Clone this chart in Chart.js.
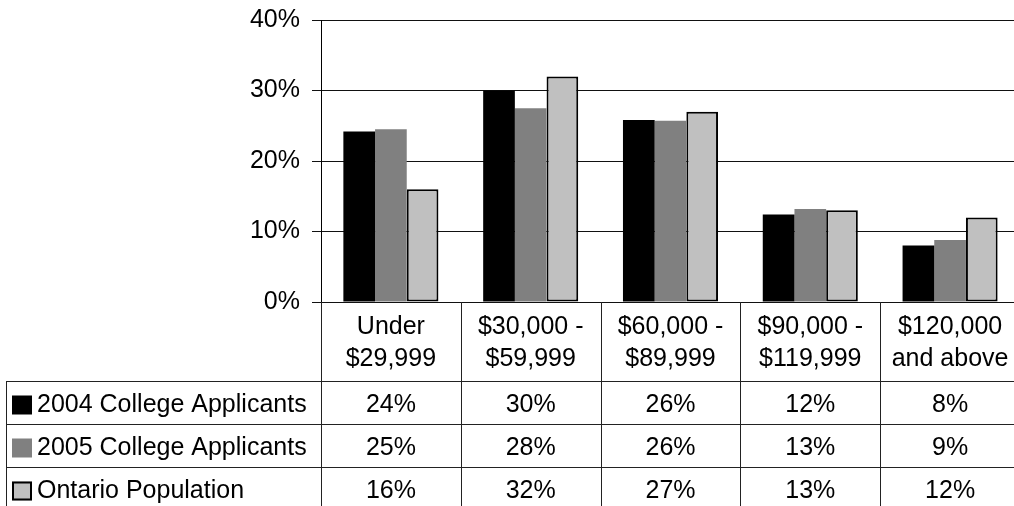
<!DOCTYPE html>
<html lang="en">
<head>
    <meta charset="UTF-8">
    <title>Household Income of College Applicants</title>
    <script src="https://cdn.jsdelivr.net/npm/chart.js"></script>
    <style>
        html, body {
            margin: 0;
            padding: 0;
            background: #fff;
            overflow: hidden; /* plot runs a few px past the window edge */
        }
        .chart-wrap {
            width: 1020px;
            height: 506px;
        }
    </style>
</head>
<body>
    <div class="chart-wrap">
        <canvas id="incomeChart" width="1020" height="506"></canvas>
    </div>

    <script>
        // Income brackets (two-line labels, as in the data table header)
        const categories = [
            ['Under', '$29,999'],
            ['$30,000 -', '$59,999'],
            ['$60,000 -', '$89,999'],
            ['$90,000 -', '$119,999'],
            ['$120,000', 'and above']
        ];

        const seriesNames = ['2004 College Applicants', '2005 College Applicants', 'Ontario Population'];

        // Percent of group in each bracket
        const applicants2004 = [24.2, 30.0, 25.8, 12.4, 8.0];
        const applicants2005 = [24.5, 27.5, 25.7, 13.2, 8.8];
        const ontarioPop = [16.0, 32.0, 27.0, 13.0, 12.0];

        const yTicks = [0, 10, 20, 30, 40];

        const FONT = "'Liberation Sans', Arial, sans-serif";
        const colors = ['#000000', '#808080', '#c0c0c0'];

        // Draws the Excel style data table under the plot
        const dataTablePlugin = {
            id: 'dataTable',
            afterDraw(chart) {
                const ctx = chart.ctx;
                const area = chart.chartArea;
                const x = chart.scales.x;
                const n = categories.length;
                const colW = (area.right - area.left) / n;
                const headerBottom = 381;
                const rowH = 43;
                const tableLeft = 6;
                const bottom = chart.height;

                ctx.save();
                ctx.strokeStyle = '#222';
                ctx.lineWidth = 1;
                ctx.beginPath();
                // column separators
                for (let i = 0; i <= n; i++) {
                    const px = Math.round(area.left + i * colW) + 0.5;
                    ctx.moveTo(px, area.bottom);
                    ctx.lineTo(px, bottom);
                }
                // left border of the legend column
                ctx.moveTo(tableLeft + 0.5, headerBottom);
                ctx.lineTo(tableLeft + 0.5, bottom);
                // row separators
                for (let r = 0; r < seriesNames.length; r++) {
                    const py = headerBottom + r * rowH + 0.5;
                    ctx.moveTo(tableLeft, py);
                    ctx.lineTo(area.right, py);
                }
                ctx.stroke();

                ctx.fillStyle = '#000';
                ctx.font = '25px ' + FONT;
                ctx.textAlign = 'center';
                ctx.textBaseline = 'alphabetic';
                // header: category labels
                categories.forEach((lines, i) => {
                    const cx = x.getPixelForValue(i);
                    lines.forEach((line, j) => {
                        ctx.fillText(line, cx, 334 + j * 32);
                    });
                });

                // value rows
                const allSeries = [applicants2004, applicants2005, ontarioPop];
                ctx.textBaseline = 'middle';
                allSeries.forEach((vals, r) => {
                    const cy = headerBottom + r * rowH + rowH / 2 + 3;
                    vals.forEach((v, i) => {
                        ctx.textAlign = 'center';
                        ctx.fillText(Math.round(v) + '%', x.getPixelForValue(i), cy);
                    });
                    // legend key + name
                    const boxY = cy - 10;
                    ctx.fillStyle = colors[r];
                    ctx.fillRect(12, boxY, 20, 19);
                    if (r === 2) {
                        ctx.strokeStyle = '#000';
                        ctx.lineWidth = 2;
                        ctx.strokeRect(13, boxY + 1, 18, 17);
                    }
                    ctx.fillStyle = '#000';
                    ctx.textAlign = 'left';
                    ctx.fillText(seriesNames[r], 37, cy);
                });
                ctx.restore();
            }
        };

        const ctx = document.getElementById('incomeChart').getContext('2d');

        const incomeChart = new Chart(ctx, {
            type: 'bar',
            data: {
                labels: categories,
                datasets: [
                    {
                        label: seriesNames[0],
                        data: applicants2004,
                        backgroundColor: colors[0],
                        borderWidth: 0
                    },
                    {
                        label: seriesNames[1],
                        data: applicants2005,
                        backgroundColor: colors[1],
                        borderWidth: 0
                    },
                    {
                        label: seriesNames[2],
                        data: ontarioPop,
                        backgroundColor: colors[2],
                        borderColor: '#000',
                        borderWidth: 2,
                        borderSkipped: false
                    }
                ]
            },
            options: {
                responsive: false,
                animation: false,
                devicePixelRatio: 1,
                layout: {
                    padding: { top: 20, bottom: 204, left: 0, right: 0 }
                },
                datasets: {
                    bar: {
                        categoryPercentage: 0.68,
                        barPercentage: 1
                    }
                },
                plugins: {
                    legend: { display: false },
                    tooltip: { enabled: false }
                },
                scales: {
                    x: {
                        display: false
                    },
                    y: {
                        min: 0,
                        max: 40,
                        afterFit(scale) {
                            scale.width = 321;
                            // let layout.padding alone decide the plot's top/bottom
                            scale.paddingTop = 0;
                            scale.paddingBottom = 0;
                        },
                        afterBuildTicks(scale) {
                            scale.ticks = yTicks.map(v => ({ value: v }));
                        },
                        ticks: {
                            color: '#000',
                            font: { family: FONT, size: 25 },
                            padding: 12,
                            callback: v => v + '%'
                        },
                        grid: {
                            color: '#111',
                            lineWidth: 1,
                            tickLength: 9
                        },
                        border: {
                            color: '#000',
                            width: 1
                        }
                    }
                }
            },
            plugins: [dataTablePlugin]
        });
    </script>
</body>
</html>
